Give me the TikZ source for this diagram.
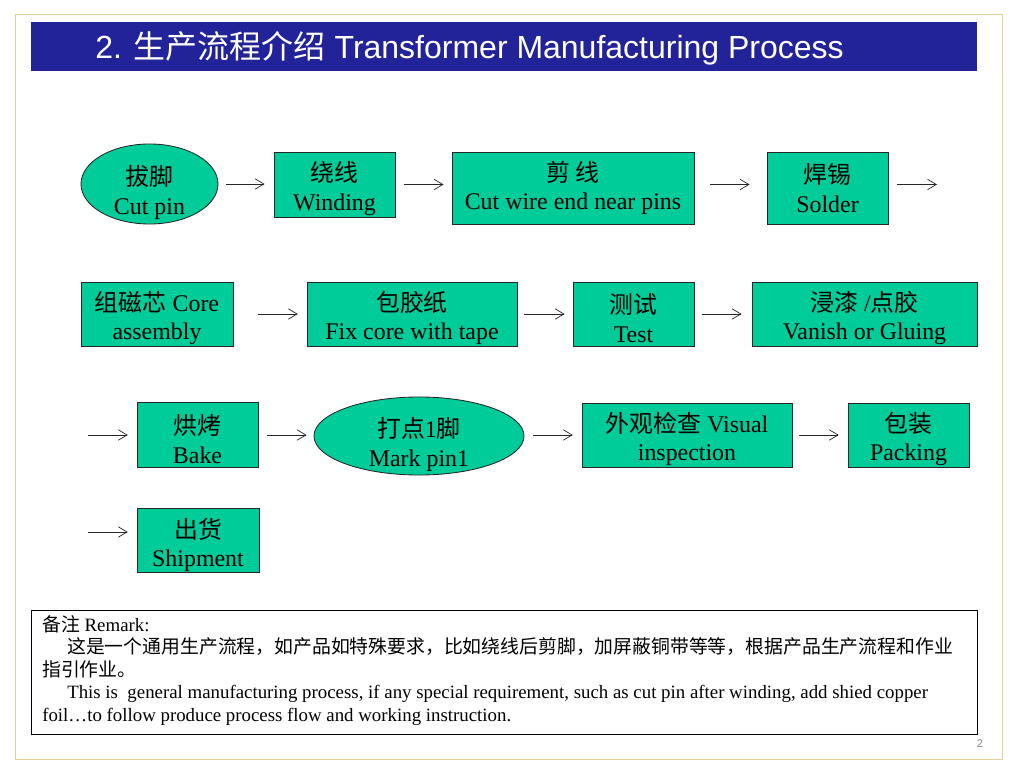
\documentclass[tikz,border=0pt]{standalone}
\usepackage{fontspec}
\setmainfont{Liberation Serif}
\newfontfamily\cjk{Noto Sans CJK SC}
\newfontfamily\titlefont{Liberation Sans}
\usepackage{tikz}
\usetikzlibrary{calc}
\usetikzlibrary{shapes}
\usetikzlibrary{arrows.meta}
\definecolor{stepgreen}{RGB}{0,204,153}
\definecolor{titleblue}{RGB}{34,34,153}
\definecolor{framegold}{RGB}{226,208,152}
% extra room above the first line, pushes the text down in its box
\newcommand\boxtop{\rule{0pt}{20pt}}
\newcommand\ovaltop{\rule{0pt}{26pt}}

\begin{document}
\begin{tikzpicture}[x=0.025cm,y=-0.025cm]
% % Box style
 \tikzset{
 	stepbox/.style={draw=black!85, fill=stepgreen, line width=0.6pt, inner sep=0pt,
 		align=center, font=\fontsize{17}{20.5}\selectfont, minimum height=1.6cm},
 	stepoval/.style={stepbox, ellipse, inner ysep=-8pt},
 	flow/.style={-{Straight Barb[length=2.2mm,width=2.6mm]}, line width=0.5pt, black!85,
 		shorten <=0.22cm, shorten >=0.22cm}
 }
 \useasboundingbox (0,0) rectangle (1018,773);
 \fill[white] (0,0) rectangle (1018,773);
% % Page frame and title
 \draw[framegold, line width=0.6pt] (15,14) rectangle (1002,759);
 \node[fill=titleblue, minimum width=23.65cm, minimum height=1.225cm, inner sep=0pt] (titlebar) at (504,46.5) {};
 \node[anchor=base west, text=white, inner sep=0pt, font=\titlefont\fontsize{22.75}{27}\selectfont] (title) at (95,59)
 	{2. {\cjk 生产流程介绍} Transformer Manufacturing Process};
% % Row 1
 \node[stepoval, minimum width=3.425cm, minimum height=2cm] (cutpin) at (149.5,184) {\ovaltop{\cjk 拔脚}\\Cut pin};
 \node[stepbox, minimum width=3.025cm, minimum height=1.625cm] (winding) at (334.5,184.5) {\boxtop{\cjk 绕线}\\Winding};
 \node[stepbox, minimum width=6.05cm, minimum height=1.8cm] (cutwire) at (573,188) {{\cjk 剪 线}\\Cut wire end near pins};
 \node[stepbox, minimum width=3.025cm, minimum height=1.8cm] (solder) at (827.5,188) {{\cjk 焊锡}\\Solder};
 \coordinate (r1end) at (937,184.5);
 \draw[flow, shorten <=0.2cm, shorten >=0.225cm] (cutpin.east) -- (cutpin.east -| winding.west);
 \draw[flow, shorten <=0.225cm, shorten >=0.2cm] (winding.east) -- (winding.east -| cutwire.west);
 \draw[flow, shorten <=0.4cm, shorten >=0.425cm] (cutwire.east |- winding) -- (solder.west |- winding);
 \draw[flow, shorten >=0pt] (solder.east |- winding) -- (r1end);
% % Row 2
 \node[stepbox, minimum width=3.8cm] (core) at (157,314) {\boxtop{\cjk 组磁芯} Core\\assembly};
 \node[stepbox, minimum width=5.25cm] (fixcore) at (412,314) {\boxtop{\cjk 包胶纸}\\Fix core with tape};
 \node[stepbox, minimum width=3.025cm] (test) at (633.5,314) {\boxtop{\cjk 测试}\\Test};
 \node[stepbox, minimum width=5.625cm] (vanish) at (864.5,314) {\boxtop{\cjk 浸漆} /{\cjk 点胶}\\Vanish or Gluing};
 \draw[flow, shorten <=0.625cm] (core) -- (fixcore);
 \draw[flow, shorten <=0.175cm, shorten >=0.2cm] (fixcore) -- (test);
 \draw[flow, shorten <=0.2cm, shorten >=0.25cm] (test) -- (vanish);
% % Row 3
 \coordinate (r3start) at (88,435);
 \node[stepbox, minimum width=3.025cm, minimum height=1.625cm] (bake) at (197.5,435) {\boxtop{\cjk 烘烤}\\Bake};
 \node[stepoval, minimum width=5.25cm, minimum height=1.95cm] (markpin) at (419,436) {\ovaltop{\cjk 打点}1{\cjk 脚}\\Mark pin1};
 \node[stepbox, minimum width=5.25cm] (visual) at (687,435) {\boxtop{\cjk 外观检查} Visual\\inspection};
 \node[stepbox, minimum width=3.025cm] (packing) at (908.5,435) {\boxtop{\cjk 包装}\\Packing};
 \draw[flow, shorten <=0pt] (r3start) -- (r3start -| bake.west);
 \draw[flow, shorten >=0.175cm] (bake.east) -- (bake.east -| markpin.west);
 \draw[flow] (markpin.east |- bake) -- (visual.west |- bake);
 \draw[flow, shorten <=0.175cm] (visual) -- (packing);
% % Row 4
 \coordinate (r4start) at (88,532);
 \node[stepbox, minimum width=3.05cm] (shipment) at (198,540) {\rule{0pt}{21.5pt}{\cjk 出货}\\Shipment};
 \draw[flow, shorten <=0pt] (r4start) -- (r4start -| shipment.west);
% % Remark
 \node[draw=black, line width=0.6pt, minimum width=23.65cm, minimum height=3.1cm, inner sep=0pt] (remark) at (504.5,672) {};
 \node[anchor=north west, align=left, inner sep=0pt, font=\fontsize{13.4}{16}\selectfont] (remtext) at (42,615)
 	{{\cjk 备注} Remark:\\
 	\hspace*{0.625cm}{\cjk 这是一个通用生产流程，如产品如特殊要求，比如绕线后剪脚，加屏蔽铜带等等，根据产品生产流程和作业}\\
 	{\cjk 指引作业。}\\
 	\hspace*{0.625cm}This is\ \ general manufacturing process, if any special requirement, such as cut pin after winding, add shied copper\\
 	foil…to follow produce process flow and working instruction.};
 \node[text=black!45, inner sep=0pt, font=\titlefont\fontsize{8}{9}\selectfont] (pagenum) at (980,744) {2};
\end{tikzpicture}
\end{document}
